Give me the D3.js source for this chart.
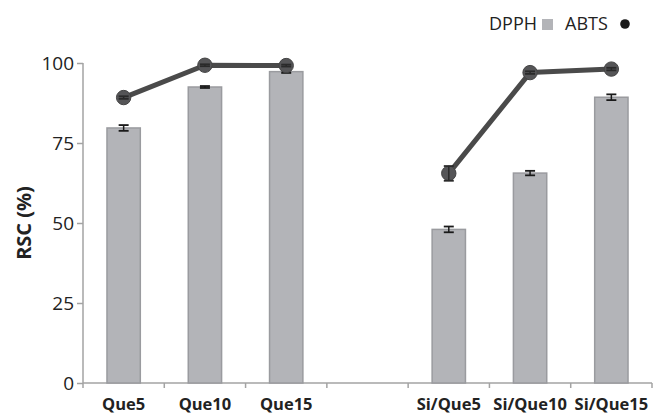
<!DOCTYPE html>
<html>
<head>
<meta charset="utf-8">
<script src="https://cdn.jsdelivr.net/npm/d3@7"></script>
<style>
  html, body { margin: 0; padding: 0; background: #fff; }
  svg { display: block; font-family: "Open Sans", sans-serif; }
</style>
</head>
<body>
<svg id="chart" width="654" height="417"></svg>
<script>
// Radical scavenging capacity of quercetin samples (a blank slot separates the two groups)
const categories = ["Que5", "Que10", "Que15", "", "Si/Que5", "Si/Que10", "Si/Que15"];
const dpph      = [79.7, 92.5, 97.3, null, 48.0, 65.6, 89.3];
const dpphErr   = [0.9, 0.3, 0.4, null, 0.9, 0.7, 0.9];
const abts      = [89.2, 99.3, 99.2, null, 65.5, 97.0, 98.1];
const abtsErr   = [0.4, 0.3, 0.3, null, 2.3, 0.4, 0.4];
const yTicks    = [0, 25, 50, 75, 100];
const yLabel    = "RSC (%)";
const legendNames = ["DPPH", "ABTS"];

const svg = d3.select("#chart");
const plotLeft = 83, plotRight = 652, plotTop = 63, plotBottom = 383;

const pad = 0.59;
const x = d3.scaleBand().domain(categories).range([plotLeft, plotRight])
  .paddingInner(pad).paddingOuter(pad / 2);
const y = d3.scaleLinear().domain([0, 100]).range([plotBottom, plotTop]);

const axisColor = "#a3a3a3";

// Y axis
const yAxis = svg.append("g")
  .attr("transform", `translate(${plotLeft},0)`)
  .call(d3.axisLeft(y).tickValues(yTicks).tickSize(6).tickPadding(3));
yAxis.select(".domain").attr("stroke", axisColor).attr("stroke-width", 1.5)
  .attr("d", `M0,${plotTop}V${plotBottom}`);
yAxis.selectAll(".tick line").attr("stroke", axisColor).attr("stroke-width", 1.5);
yAxis.selectAll(".tick text")
  .attr("fill", "#222").attr("font-size", 19).attr("font-family", "Open Sans, sans-serif");

// X axis line and ticks at band boundaries
const step = x.step();
const bounds = categories.map(c => x(c) + x.bandwidth() / 2 - step / 2);
bounds.push(bounds[bounds.length - 1] + step);
svg.append("line")
  .attr("x1", plotLeft).attr("x2", plotRight).attr("y1", plotBottom).attr("y2", plotBottom)
  .attr("stroke", axisColor).attr("stroke-width", 1.5);
svg.selectAll(".xtick").data(bounds).join("line")
  .attr("class", "xtick")
  .attr("x1", d => d).attr("x2", d => d)
  .attr("y1", plotBottom).attr("y2", plotBottom + 5)
  .attr("stroke", axisColor).attr("stroke-width", 1.5);

svg.selectAll(".xlabel").data(categories.filter(c => c !== "")).join("text")
  .attr("class", "xlabel")
  .attr("x", c => x(c) + x.bandwidth() / 2)
  .attr("y", 410)
  .attr("text-anchor", "middle")
  .attr("font-size", 16.5).attr("font-weight", "bold").attr("fill", "#222")
  .text(c => c);

// Y axis title
svg.append("text")
  .attr("transform", `translate(31,${(plotTop + plotBottom) / 2}) rotate(-90)`)
  .attr("text-anchor", "middle")
  .attr("font-size", 20).attr("font-weight", "bold").attr("fill", "#222")
  .text(yLabel);

// DPPH bars
const barData = categories.map((c, i) => ({ c, v: dpph[i], e: dpphErr[i] })).filter(d => d.v != null);
svg.selectAll(".bar").data(barData).join("rect")
  .attr("class", "bar")
  .attr("x", d => x(d.c))
  .attr("width", x.bandwidth())
  .attr("y", d => y(d.v))
  .attr("height", d => y(0) - y(d.v))
  .attr("fill", "#b3b4b8").attr("stroke", "#9a9b9f").attr("stroke-width", 1.5);

function errorBars(cls, data, color) {
  const g = svg.selectAll("." + cls).data(data).join("g").attr("class", cls);
  const cx = d => x(d.c) + x.bandwidth() / 2;
  g.append("line")
    .attr("x1", cx).attr("x2", cx)
    .attr("y1", d => y(d.v + d.e)).attr("y2", d => y(d.v - d.e))
    .attr("stroke", color).attr("stroke-width", 1.5);
  [1, -1].forEach(s => {
    g.append("line")
      .attr("x1", d => cx(d) - 5).attr("x2", d => cx(d) + 5)
      .attr("y1", d => y(d.v + s * d.e)).attr("y2", d => y(d.v + s * d.e))
      .attr("stroke", color).attr("stroke-width", 1.8);
  });
}
errorBars("dpph-err", barData, "#1a1a1a");

// ABTS line with markers
const pts = categories.map((c, i) => ({ c, v: abts[i], e: abtsErr[i] }));
const line = d3.line()
  .defined(d => d.v != null)
  .x(d => x(d.c) + x.bandwidth() / 2)
  .y(d => y(d.v));
svg.append("path").datum(pts)
  .attr("d", line)
  .attr("fill", "none").attr("stroke", "#4a4a4a").attr("stroke-width", 5)
  .attr("stroke-linejoin", "round");
const ptData = pts.filter(d => d.v != null);
svg.selectAll(".dot").data(ptData).join("circle")
  .attr("class", "dot")
  .attr("cx", d => x(d.c) + x.bandwidth() / 2)
  .attr("cy", d => y(d.v))
  .attr("r", 7.2)
  .attr("fill", "#555557").attr("stroke", "#444").attr("stroke-width", 1);
errorBars("abts-err", ptData, "#2a2a2a");

// Legend
const lg = svg.append("g").attr("font-size", 18).attr("fill", "#222");
lg.append("text").attr("x", 537).attr("y", 30).attr("text-anchor", "end").text(legendNames[0]);
lg.append("rect").attr("x", 542).attr("y", 19).attr("width", 11).attr("height", 11).attr("fill", "#b3b4b8");
lg.append("text").attr("x", 565).attr("y", 30).text(legendNames[1]);
lg.append("circle").attr("cx", 625).attr("cy", 24).attr("r", 4.8).attr("fill", "#1a1a1a");
</script>
</body>
</html>
